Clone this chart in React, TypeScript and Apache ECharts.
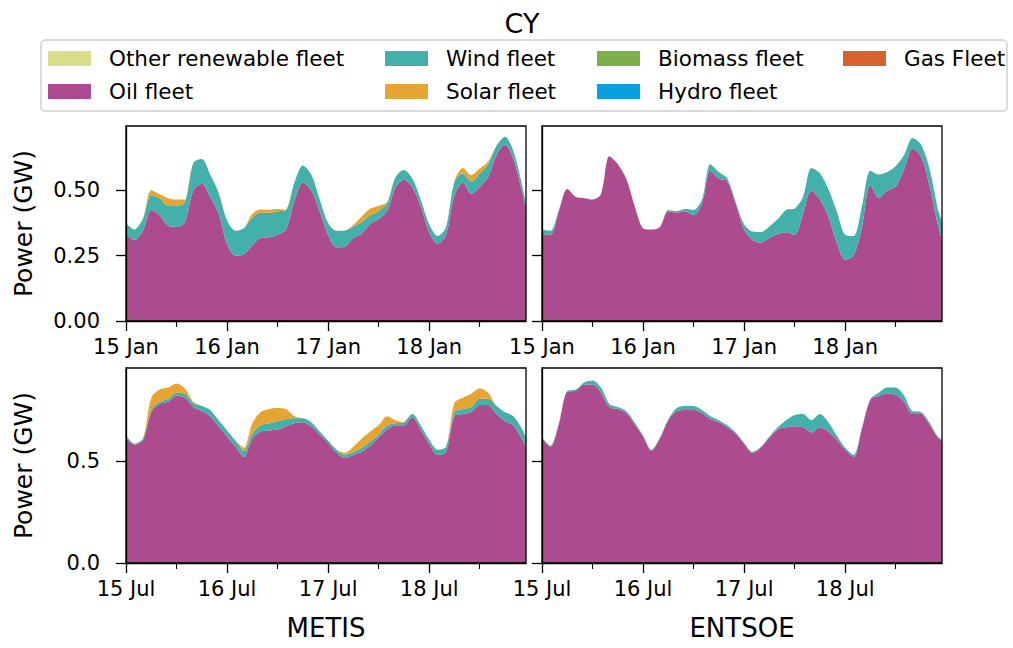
import React, { useEffect, useRef } from "react";
import * as echarts from "echarts";

// hours after 00:00 on day 1 (15 Jan / 15 Jul)
const HOURS = [0, 2, 4, 6, 8, 10, 12, 14, 16, 18, 20, 22, 24, 26, 28, 30, 32, 34, 36, 38, 40, 42, 44, 46, 48, 50, 52, 54, 56, 58, 60, 62, 64, 66, 68, 70, 72, 74, 76, 78, 80, 82, 84, 86, 88, 90, 92, 94, 95];

const JAN_TICK_LABELS = ["15 Jan", "16 Jan", "17 Jan", "18 Jan"];
const JUL_TICK_LABELS = ["15 Jul", "16 Jul", "17 Jul", "18 Jul"];
const DAY_TICKS = [0, 24, 48, 72];
const HALF_DAY_TICKS = [12, 36, 60, 84];
const LAST_HOUR = 95;
const TOP_Y_TICKS = [0, 0.25, 0.5];
const BOTTOM_Y_TICKS = [0, 0.5];

const FLEETS = ["Other renewable fleet", "Oil fleet", "Wind fleet", "Solar fleet", "Biomass fleet", "Hydro fleet", "Gas Fleet"];
const FLEET_COLORS = ["#d8dc8b", "#ac4c8e", "#43b0a9", "#e6a532", "#7daf4b", "#0aa0e0", "#d6622e"];

// fleets without output in CY
const noOutput = [0, 0, 0, 0, 0, 0, 0, 0, 0, 0, 0, 0, 0, 0, 0, 0, 0, 0, 0, 0, 0, 0, 0, 0, 0, 0, 0, 0, 0, 0, 0, 0, 0, 0, 0, 0, 0, 0, 0, 0, 0, 0, 0, 0, 0, 0, 0, 0, 0];

// METIS, January (GW)
const janMetisOil = [0.333, 0.31, 0.345, 0.425, 0.405, 0.365, 0.36, 0.38, 0.5, 0.525, 0.475, 0.41, 0.295, 0.25, 0.255, 0.29, 0.318, 0.32, 0.33, 0.35, 0.46, 0.53, 0.5, 0.42, 0.33, 0.282, 0.285, 0.318, 0.335, 0.37, 0.39, 0.42, 0.51, 0.54, 0.513, 0.44, 0.34, 0.295, 0.33, 0.48, 0.53, 0.487, 0.513, 0.55, 0.635, 0.675, 0.62, 0.5, 0.423];
const janMetisWind = [0.041, 0.04, 0.045, 0.055, 0.065, 0.075, 0.08, 0.075, 0.105, 0.095, 0.085, 0.08, 0.09, 0.095, 0.1, 0.105, 0.097, 0.094, 0.09, 0.075, 0.07, 0.065, 0.06, 0.045, 0.045, 0.063, 0.061, 0.044, 0.045, 0.035, 0.03, 0.03, 0.04, 0.038, 0.032, 0.025, 0.03, 0.03, 0.03, 0.052, 0.035, 0.045, 0.051, 0.05, 0.035, 0.03, 0.03, 0.025, 0.027];
const janMetisSolar = [0, 0, 0, 0.02, 0.015, 0.03, 0.025, 0.01, 0, 0, 0, 0, 0, 0, 0, 0.015, 0.012, 0.012, 0.008, 0, 0, 0, 0, 0, 0, 0, 0, 0.006, 0.02, 0.025, 0.02, 0.005, 0, 0, 0, 0, 0, 0, 0, 0.003, 0.02, 0.026, 0.019, 0.01, 0, 0, 0, 0, 0];

// ENTSOE, January (GW)
const janEntsoeOil = [0.33, 0.33, 0.42, 0.505, 0.475, 0.47, 0.465, 0.485, 0.63, 0.6, 0.545, 0.44, 0.355, 0.35, 0.36, 0.42, 0.415, 0.42, 0.405, 0.45, 0.575, 0.545, 0.535, 0.45, 0.35, 0.31, 0.3, 0.318, 0.333, 0.34, 0.33, 0.41, 0.5, 0.465, 0.4, 0.3, 0.235, 0.25, 0.36, 0.52, 0.47, 0.5, 0.515, 0.58, 0.66, 0.63, 0.52, 0.37, 0.31];
const janEntsoeWind = [0.02, 0.015, 0.005, 0, 0, 0, 0, 0, 0, 0, 0, 0, 0, 0, 0, 0.005, 0.005, 0.008, 0.02, 0.015, 0.025, 0.025, 0.01, 0.005, 0.02, 0.032, 0.04, 0.044, 0.057, 0.085, 0.1, 0.065, 0.085, 0.1, 0.105, 0.12, 0.095, 0.075, 0.08, 0.055, 0.09, 0.07, 0.077, 0.055, 0.04, 0.045, 0.065, 0.06, 0.07];

// METIS, July (GW)
const julMetisOil = [0.615, 0.58, 0.6, 0.74, 0.78, 0.79, 0.82, 0.81, 0.765, 0.745, 0.72, 0.67, 0.62, 0.57, 0.52, 0.61, 0.645, 0.65, 0.655, 0.67, 0.685, 0.69, 0.67, 0.63, 0.59, 0.54, 0.515, 0.53, 0.545, 0.575, 0.615, 0.655, 0.675, 0.675, 0.715, 0.655, 0.585, 0.53, 0.545, 0.72, 0.73, 0.74, 0.775, 0.775, 0.73, 0.695, 0.675, 0.61, 0.563];
const julMetisWind = [0.01, 0.005, 0.01, 0.01, 0.01, 0.015, 0.015, 0.02, 0.02, 0.025, 0.03, 0.03, 0.03, 0.03, 0.03, 0.025, 0.03, 0.035, 0.04, 0.035, 0.025, 0.02, 0.02, 0.015, 0.01, 0.015, 0.015, 0.015, 0.02, 0.02, 0.015, 0.02, 0.01, 0.015, 0.015, 0.02, 0.02, 0.025, 0.025, 0.02, 0.025, 0.025, 0.03, 0.03, 0.04, 0.045, 0.045, 0.05, 0.052];
const julMetisSolar = [0, 0, 0, 0.06, 0.06, 0.055, 0.045, 0.025, 0.005, 0, 0, 0, 0, 0, 0.015, 0.05, 0.065, 0.07, 0.065, 0.05, 0.01, 0, 0, 0, 0, 0, 0.01, 0.025, 0.045, 0.05, 0.045, 0.045, 0.015, 0, 0, 0, 0, 0, 0, 0.045, 0.055, 0.065, 0.05, 0.03, 0, 0, 0, 0, 0];

// ENTSOE, July (GW)
const julEntsoeOil = [0.61, 0.57, 0.68, 0.84, 0.845, 0.875, 0.875, 0.835, 0.765, 0.755, 0.735, 0.68, 0.62, 0.55, 0.61, 0.7, 0.745, 0.75, 0.75, 0.735, 0.705, 0.69, 0.665, 0.635, 0.585, 0.54, 0.565, 0.615, 0.655, 0.665, 0.67, 0.665, 0.64, 0.665, 0.645, 0.605, 0.555, 0.52, 0.66, 0.8, 0.82, 0.83, 0.825, 0.79, 0.73, 0.73, 0.68, 0.615, 0.6];
const julEntsoeWind = [0.005, 0.005, 0.005, 0.005, 0.005, 0.01, 0.02, 0.025, 0.015, 0.01, 0.01, 0.01, 0.005, 0.005, 0.005, 0.005, 0.015, 0.02, 0.02, 0.015, 0.015, 0.01, 0.01, 0.005, 0.005, 0.005, 0.005, 0.005, 0.01, 0.035, 0.055, 0.065, 0.06, 0.065, 0.045, 0.02, 0.01, 0.01, 0.005, 0.005, 0.015, 0.03, 0.035, 0.03, 0.015, 0.01, 0.01, 0.005, 0.005];

const PANEL_SERIES = [
  [noOutput, janMetisOil, janMetisWind, janMetisSolar, noOutput, noOutput, noOutput],
  [noOutput, janEntsoeOil, janEntsoeWind, noOutput, noOutput, noOutput, noOutput],
  [noOutput, julMetisOil, julMetisWind, julMetisSolar, noOutput, noOutput, noOutput],
  [noOutput, julEntsoeOil, julEntsoeWind, noOutput, noOutput, noOutput, noOutput],
];

const FONT = "'DejaVu Sans', sans-serif";
const W = 400;
const H = 195;
const PANELS = [
  { left: 126, top: 126, ticks: JAN_TICK_LABELS, yMax: 0.746, yTicks: TOP_Y_TICKS, digits: 2, isLeft: true, title: "" },
  { left: 542, top: 126, ticks: JAN_TICK_LABELS, yMax: 0.746, yTicks: TOP_Y_TICKS, digits: 2, isLeft: false, title: "" },
  { left: 126, top: 368, ticks: JUL_TICK_LABELS, yMax: 0.956, yTicks: BOTTOM_Y_TICKS, digits: 1, isLeft: true, title: "METIS" },
  { left: 542, top: 368, ticks: JUL_TICK_LABELS, yMax: 0.956, yTicks: BOTTOM_Y_TICKS, digits: 1, isLeft: false, title: "ENTSOE" },
];

export default function App() {
  const ref = useRef<HTMLDivElement>(null);
  useEffect(() => {
    if (!ref.current) return;
    const chart = echarts.init(ref.current, null, { renderer: "svg" });
    const black = "#000";
    const grid: any[] = [];
    const xAxis: any[] = [];
    const yAxis: any[] = [];
    const series: any[] = [];
    const graphic: any[] = [];

    PANELS.forEach((p, i) => {
      grid.push({ left: p.left, top: p.top, width: W, height: H, containLabel: false });
      xAxis.push({
        gridIndex: i, type: "value", min: 0, max: LAST_HOUR, position: "bottom", z: 5,
        axisLine: { show: true, lineStyle: { color: black, width: 1.3 } },
        axisTick: { show: true, customValues: DAY_TICKS, length: 10, lineStyle: { color: black, width: 1.3 } },
        axisLabel: {
          customValues: DAY_TICKS, margin: 15, fontSize: 21, fontFamily: FONT, color: black,
          formatter: (v: number) => p.ticks[Math.round(v / 24)] ?? "",
        },
        splitLine: { show: false },
        name: p.title, nameLocation: "middle", nameGap: 52,
        nameTextStyle: { fontSize: 26, fontFamily: FONT, color: black },
      });
      xAxis.push({
        gridIndex: i, type: "value", min: 0, max: LAST_HOUR, position: "bottom", z: 5,
        axisLine: { show: false },
        axisTick: { show: true, customValues: HALF_DAY_TICKS, length: 6, lineStyle: { color: black, width: 1.1 } },
        axisLabel: { show: false },
        splitLine: { show: false },
      });
      yAxis.push({
        gridIndex: i, type: "value", min: 0, max: p.yMax, z: 5,
        axisLine: { show: true, lineStyle: { color: black, width: 1.3 } },
        axisTick: { show: true, customValues: p.yTicks, length: 10, lineStyle: { color: black, width: 1.3 } },
        axisLabel: {
          show: p.isLeft, customValues: p.yTicks, margin: 26, fontSize: 21, fontFamily: FONT, color: black,
          formatter: (v: number) => v.toFixed(p.digits),
        },
        splitLine: { show: false },
        name: p.isLeft ? "Power (GW)" : "", nameLocation: "middle", nameGap: 90,
        nameTextStyle: { fontSize: 25, fontFamily: FONT, color: black },
      });
      PANEL_SERIES[i].forEach((vals, k) => {
        series.push({
          type: "line", name: FLEETS[k], xAxisIndex: 2 * i, yAxisIndex: i,
          stack: "panel" + i, showSymbol: false, symbol: "none", smooth: 0.3,
          color: FLEET_COLORS[k],
          lineStyle: { width: 0, opacity: 0 },
          areaStyle: { color: FLEET_COLORS[k], opacity: 1 },
          // value first so that the stack is built on the power dimension
          encode: { x: 1, y: 0 },
          data: HOURS.map((h, j) => [vals[j], h]),
          z: 2,
        });
      });
      graphic.push({
        type: "rect", z: 50, silent: true,
        shape: { x: p.left, y: p.top, width: W, height: H },
        style: { fill: "none", stroke: black, lineWidth: 1.3 },
      });
    });

    graphic.push({
      type: "rect", z: 0, silent: true,
      shape: { x: 41, y: 40, width: 966, height: 71, r: 4 },
      style: { fill: "#fff", stroke: "#d0d0d0", lineWidth: 1.5 },
    });
    graphic.push({
      type: "text", z: 50, x: 522, y: 23,
      style: { text: "CY", fontSize: 27, fontFamily: FONT, fill: black, align: "center", verticalAlign: "middle" },
    });

    const legendCols = [
      { left: 48, data: [FLEETS[0], FLEETS[1]] },
      { left: 385, data: [FLEETS[2], FLEETS[3]] },
      { left: 597, data: [FLEETS[4], FLEETS[5]] },
      { left: 843, data: [FLEETS[6]] },
    ];
    const legend = legendCols.map((c) => ({
      data: c.data, left: c.left, top: 47.5, orient: "vertical", padding: 0,
      itemWidth: 43, itemHeight: 15, itemGap: 11, icon: "rect", selectedMode: false,
      itemStyle: { borderWidth: 0 },
      textStyle: { fontSize: 21.5, lineHeight: 22, fontFamily: FONT, color: black, padding: [0, 0, 0, 13] },
    }));

    chart.setOption({
      animation: false,
      backgroundColor: "#fff",
      textStyle: { fontFamily: FONT },
      grid, xAxis, yAxis, series, legend, graphic,
    });
    return () => chart.dispose();
  }, []);
  return <div ref={ref} style={{ position: "fixed", left: 0, top: 0, width: 1013, height: 648 }} />;
}
